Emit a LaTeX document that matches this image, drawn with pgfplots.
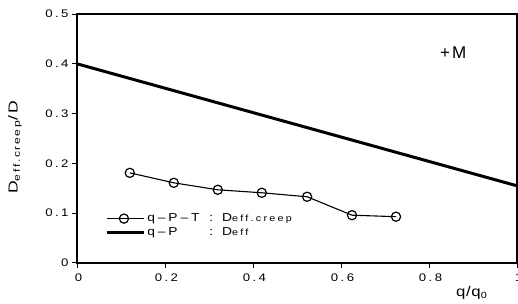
\documentclass[border=0pt]{standalone}
\usepackage{pgfplots}
\pgfplotsset{compat=1.18}
\usepackage{fontspec}
\setmainfont{Liberation Sans}
\newfontfamily\tickfont[FakeStretch=1.2,LetterSpace=22]{Liberation Sans}
\newfontfamily\legfont[FakeStretch=1.2,LetterSpace=25]{Liberation Sans}
\newfontfamily\labfont[FakeStretch=1.35,LetterSpace=18]{Liberation Sans}
\newfontfamily\xlabfont[FakeStretch=1.2,LetterSpace=5]{Liberation Sans}
\newfontfamily\mfont[LetterSpace=12]{Liberation Sans}
\begin{document}
\begin{tikzpicture}
\begin{axis}[
  name=ax,
  scale only axis,
  width=440pt, height=249pt,
  xmin=0, xmax=1, ymin=0, ymax=0.5,
  xtick={0,0.2,0.4,0.6,0.8,1},
  ytick={0,0.1,0.2,0.3,0.4,0.5},
  /pgf/number format/assume math mode=true,
  /pgf/number format/fixed,
  /pgf/number format/precision=1,
  tick align=outside,
  tick pos=left,
  major tick length=5pt,
  axis line style={line width=1.3pt},
  every tick/.style={line width=1pt, black},
  yticklabel style={font=\fontsize{11}{12}\tickfont},
  xticklabel style={font=\fontsize{11}{12}\tickfont, yshift=-2pt, xshift=1.5pt},
  ylabel={\fontsize{13}{14}\labfont D\textsubscript{\fontsize{9}{10}\selectfont eff.creep}/D},
  ylabel style={at={(axis description cs:-0.141,0.465)}, anchor=center},
  xlabel={\fontsize{14}{15}\xlabfont q/q\textsubscript{\fontsize{9}{10}\selectfont 0}},
  xlabel style={at={(axis description cs:0.897,-0.12)}, anchor=center},
  legend style={draw=none, fill=none, at={(axis cs:0.064,0.103)}, anchor=north west,
    font=\fontsize{11.5}{12}\legfont, row sep=0pt, inner sep=0pt,
    legend cell align=left},
  legend image code/.code={\draw[mark repeat=2,mark phase=2,#1] plot coordinates {(0cm,0cm) (0.6cm,0cm) (1.3cm,0cm)};},
]
\addplot[black, line width=1.1pt, mark=o, mark size=4.6pt, mark options={fill=white, line width=1.2pt}]
  coordinates {(0.12,0.181) (0.22,0.161) (0.32,0.147) (0.42,0.141) (0.523,0.133) (0.625,0.096) (0.725,0.093)};
\addlegendentry{\makebox[62pt][l]{q–P–T}{: D{\fontsize{9}{10}\selectfont eff.creep}}}
\addplot[black, line width=3pt] coordinates {(0,0.400) (1,0.155)};
\addlegendentry{\makebox[62pt][l]{q–P}{: D{\fontsize{9}{10}\selectfont eff}}}
\node[font=\fontsize{17}{18}\mfont] at (axis cs:0.855,0.422) {+M};
\end{axis}
\pgfresetboundingbox
\useasboundingbox ([shift={(-77pt,-41pt)}]ax.south west) rectangle ([shift={(1pt,14pt)}]ax.north east);
\end{tikzpicture}
\end{document}
